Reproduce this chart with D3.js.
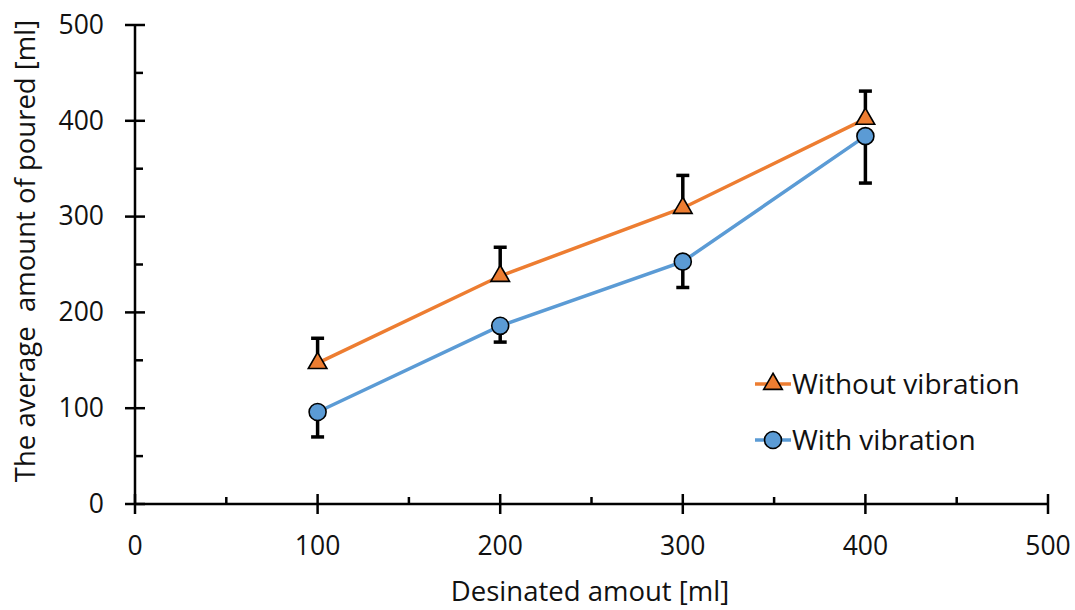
<!DOCTYPE html>
<html>
<head>
<meta charset="utf-8">
<script src="https://cdn.jsdelivr.net/npm/d3@7/dist/d3.min.js"></script>
<style>
  html, body { margin: 0; padding: 0; background: #fff; }
  svg { display: block; font-family: "Open Sans", "Noto Sans", sans-serif; }
</style>
</head>
<body>
<svg id="chart" width="1075" height="610"></svg>
<script>
// Designated volume (x) and measured mean poured volume (y), ml
const designated = [100, 200, 300, 400];
const withoutVibration = [147, 238, 309, 402];
const withoutVibrationErr = [26, 30, 34, 29];   // upper error
const withVibration = [96, 186, 253, 384];
const withVibrationErr = [26, 17, 27, 49];      // lower error

const xTicks = [0, 100, 200, 300, 400, 500];
const yTicks = [0, 100, 200, 300, 400, 500];
const xMinor = [50, 150, 250, 350, 450];
const yMinor = [50, 150, 250, 350, 450];

const svg = d3.select("#chart");
const x = d3.scaleLinear().domain([0, 500]).range([135, 1048]);
const y = d3.scaleLinear().domain([0, 500]).range([504, 25]);

const ink = "#000";
const textInk = "#111";
const orange = "#ED7D31";
const blue = "#5B9BD5";

// Axes
const gx = svg.append("g").attr("transform", `translate(0,${y(0)})`);
gx.append("line").attr("x1", x(0)).attr("x2", x(500)).attr("stroke", ink).attr("stroke-width", 2.5);
gx.selectAll(".maj").data(xTicks).join("line")
  .attr("x1", d => x(d)).attr("x2", d => x(d)).attr("y1", -10).attr("y2", 10)
  .attr("stroke", ink).attr("stroke-width", 2.5);
gx.selectAll(".min").data(xMinor).join("line")
  .attr("x1", d => x(d)).attr("x2", d => x(d)).attr("y1", -7).attr("y2", 0)
  .attr("stroke", ink).attr("stroke-width", 2.5);
gx.selectAll("text").data(xTicks).join("text")
  .attr("x", d => x(d)).attr("y", 51).attr("text-anchor", "middle")
  .attr("font-size", 26.5).attr("fill", textInk).text(d => d);

const gy = svg.append("g").attr("transform", `translate(${x(0)},0)`);
gy.append("line").attr("y1", y(0)).attr("y2", y(500)).attr("stroke", ink).attr("stroke-width", 2.5);
gy.selectAll(".maj").data(yTicks).join("line")
  .attr("y1", d => y(d)).attr("y2", d => y(d)).attr("x1", -10).attr("x2", 10)
  .attr("stroke", ink).attr("stroke-width", 2.5);
gy.selectAll(".min").data(yMinor).join("line")
  .attr("y1", d => y(d)).attr("y2", d => y(d)).attr("x1", 0).attr("x2", 8)
  .attr("stroke", ink).attr("stroke-width", 2.5);
gy.selectAll("text").data(yTicks).join("text")
  .attr("x", -31).attr("y", d => y(d)).attr("dy", "0.33em").attr("text-anchor", "end")
  .attr("font-size", 26.5).attr("fill", textInk).text(d => d);

// Axis titles
svg.append("text").attr("x", 590).attr("y", 601).attr("text-anchor", "middle")
  .attr("font-size", 27.5).attr("fill", textInk).text("Desinated amout [ml]");
svg.append("text").attr("transform", "translate(35,251) rotate(-90)")
  .attr("text-anchor", "middle").attr("font-size", 27.5).attr("fill", textInk)
  .attr("xml:space", "preserve").style("white-space", "pre")
  .text("The average  amount of poured [ml]");

const line = d3.line().x(d => x(d[0])).y(d => y(d[1]));
const triangle = d3.symbol().type(d3.symbolTriangle).size(150);

function errorBars(values, errs, dir) {
  const g = svg.append("g").attr("stroke", ink).attr("stroke-width", 3.5);
  designated.forEach((d, i) => {
    const end = values[i] + dir * errs[i];
    g.append("line").attr("x1", x(d)).attr("x2", x(d)).attr("y1", y(values[i])).attr("y2", y(end));
    g.append("line").attr("x1", x(d) - 6.5).attr("x2", x(d) + 6.5).attr("y1", y(end)).attr("y2", y(end));
  });
}

// Series lines
const ptsO = designated.map((d, i) => [d, withoutVibration[i]]);
const ptsB = designated.map((d, i) => [d, withVibration[i]]);
svg.append("path").datum(ptsO).attr("d", line).attr("fill", "none").attr("stroke", orange).attr("stroke-width", 3.5);
svg.append("path").datum(ptsB).attr("d", line).attr("fill", "none").attr("stroke", blue).attr("stroke-width", 3.5);

errorBars(withoutVibration, withoutVibrationErr, 1);
errorBars(withVibration, withVibrationErr, -1);

// Markers
svg.append("g").selectAll("path").data(ptsO).join("path")
  .attr("d", triangle).attr("transform", d => `translate(${x(d[0])},${y(d[1])})`)
  .attr("fill", orange).attr("stroke", ink).attr("stroke-width", 1.6);
svg.append("g").selectAll("circle").data(ptsB).join("circle")
  .attr("cx", d => x(d[0])).attr("cy", d => y(d[1])).attr("r", 8.5)
  .attr("fill", blue).attr("stroke", ink).attr("stroke-width", 1.6);

// Legend
const legend = [
  { label: "Without vibration", color: orange, shape: "tri", yy: 384 },
  { label: "With vibration", color: blue, shape: "circ", yy: 440 }
];
legend.forEach(l => {
  const g = svg.append("g");
  g.append("line").attr("x1", 755).attr("x2", 791).attr("y1", l.yy).attr("y2", l.yy)
    .attr("stroke", l.color).attr("stroke-width", 3.5);
  if (l.shape === "tri") {
    g.append("path").attr("d", triangle).attr("transform", `translate(773,${l.yy})`)
      .attr("fill", l.color).attr("stroke", ink).attr("stroke-width", 1.6);
  } else {
    g.append("circle").attr("cx", 773).attr("cy", l.yy).attr("r", 8.5)
      .attr("fill", l.color).attr("stroke", ink).attr("stroke-width", 1.6);
  }
  g.append("text").attr("x", 792).attr("y", l.yy).attr("dy", "0.35em")
    .attr("font-size", 28).attr("fill", textInk).text(l.label);
});
</script>
</body>
</html>
